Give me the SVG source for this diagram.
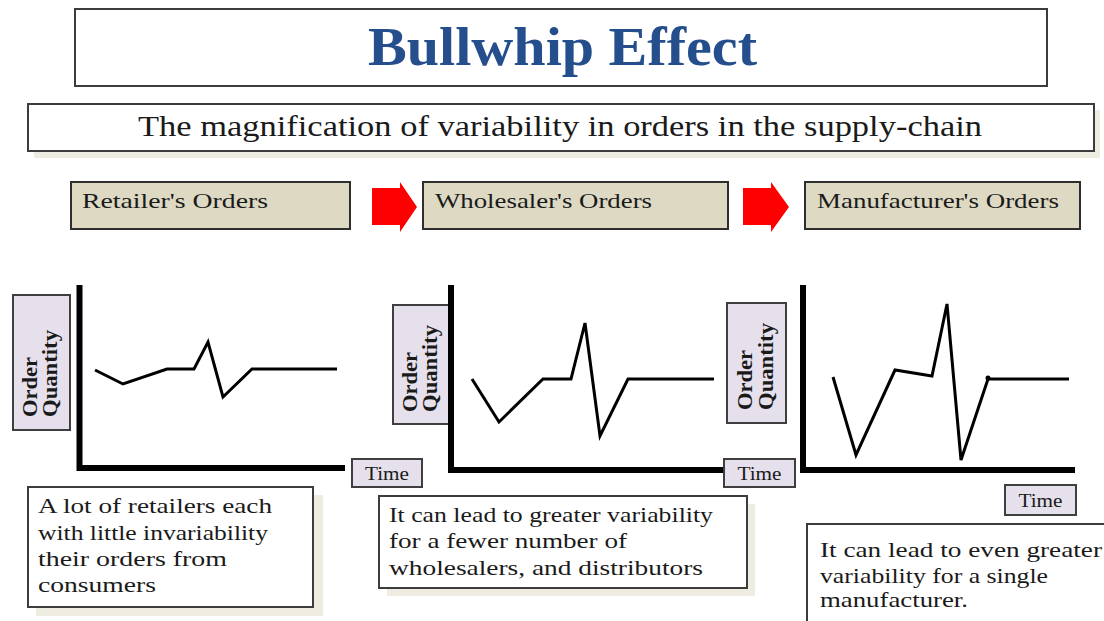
<svg xmlns="http://www.w3.org/2000/svg" width="1104" height="621" viewBox="0 0 1104 621">
  <style>
    .serif { font-family: "Liberation Serif", "Times New Roman", serif; fill: #1a1a1a; }
    .frame { fill: #ffffff; stroke: #3c3c3c; stroke-width: 2; }
    .shadow { fill: #eeece1; }
    .stage { fill: #ddd9c3; stroke: #2e2e2e; stroke-width: 2; }
    .stage-text { font-size: 22px; }
    .label { fill: #e5e0ec; stroke: #3f3f3f; stroke-width: 2; }
    .axis { fill: none; stroke: #000; stroke-width: 6; stroke-linejoin: miter; }
    .trace { fill: none; stroke: #000; stroke-width: 3; stroke-linejoin: miter; }
    .qty { font-size: 20px; font-weight: bold; }
    .time { font-size: 19px; }
    .body { font-size: 22px; }
    .arrow { fill: #ff0000; }
  </style>

  <!-- title banner -->
  <g id="title">
    <rect class="frame" x="75" y="9" width="972" height="77"/>
    <text x="368" y="65" textLength="389" lengthAdjust="spacingAndGlyphs" style="font-family:'Liberation Serif','Times New Roman',serif;font-size:54px;font-weight:bold;fill:#254e8c">Bullwhip  Effect</text>
  </g>

  <!-- subtitle -->
  <g id="subtitle">
    <rect class="shadow" x="34" y="110" width="1066" height="48"/>
    <rect class="frame" x="28" y="104" width="1066" height="47"/>
    <text class="serif" x="138" y="136" font-size="30" textLength="844" lengthAdjust="spacingAndGlyphs">The magnification of variability in orders in the supply-chain</text>
  </g>

  <!-- stage headers -->
  <g id="retailer-orders">
    <rect class="stage" x="71" y="182" width="279" height="47"/>
    <text class="serif stage-text" x="82" y="208" textLength="186" lengthAdjust="spacingAndGlyphs">Retailer's  Orders</text>
  </g>
  <g id="wholesaler-orders">
    <rect class="stage" x="423" y="182" width="305" height="47"/>
    <text class="serif stage-text" x="435" y="208" textLength="217" lengthAdjust="spacingAndGlyphs">Wholesaler's Orders</text>
  </g>
  <g id="manufacturer-orders">
    <rect class="stage" x="805" y="182" width="275" height="47"/>
    <text class="serif stage-text" x="817" y="208" textLength="242" lengthAdjust="spacingAndGlyphs">Manufacturer's Orders</text>
  </g>

  <!-- flow arrows between stages -->
  <g id="connectors">
    <polygon class="arrow" points="372,188 400,188 400,182 417,207 400,232 400,225 372,225"/>
    <polygon class="arrow" points="743,188 771,188 771,182 789,207 771,232 771,225 743,225"/>
  </g>

  <!-- retailer chart -->
  <g id="retailer-chart">
    <rect class="label" x="13" y="295" width="57" height="135"/>
    <text class="serif qty" transform="translate(37,417) rotate(-90)" textLength="60" lengthAdjust="spacingAndGlyphs">Order</text>
    <text class="serif qty" transform="translate(57,417) rotate(-90)" textLength="87" lengthAdjust="spacingAndGlyphs">Quantity</text>
    <path class="axis" d="M79.5,285 V468 H345"/>
    <polyline class="trace" points="95,370 123,384 167,369 194,369 208,342 223,397 252,369 337,369"/>
    <rect class="label" x="352" y="459" width="70" height="28"/>
    <text class="serif time" x="387" y="480" text-anchor="middle" textLength="44" lengthAdjust="spacingAndGlyphs">Time</text>
  </g>

  <!-- wholesaler chart -->
  <g id="wholesaler-chart">
    <rect class="label" x="393" y="305" width="56" height="119"/>
    <text class="serif qty" transform="translate(417,412) rotate(-90)" textLength="60" lengthAdjust="spacingAndGlyphs">Order</text>
    <text class="serif qty" transform="translate(437,412) rotate(-90)" textLength="87" lengthAdjust="spacingAndGlyphs">Quantity</text>
    <path class="axis" d="M451,285 V470 H725"/>
    <polyline class="trace" points="472,379 499,422 543,379 571,379 585,323 600,436 628,379 714,379"/>
    <rect class="label" x="724" y="459" width="71" height="28"/>
    <text class="serif time" x="759.5" y="480" text-anchor="middle" textLength="44" lengthAdjust="spacingAndGlyphs">Time</text>
  </g>

  <!-- manufacturer chart -->
  <g id="manufacturer-chart">
    <rect class="label" x="727" y="303" width="59" height="120"/>
    <text class="serif qty" transform="translate(752,410) rotate(-90)" textLength="60" lengthAdjust="spacingAndGlyphs">Order</text>
    <text class="serif qty" transform="translate(773,410) rotate(-90)" textLength="87" lengthAdjust="spacingAndGlyphs">Quantity</text>
    <path class="axis" d="M803,285 V470 H1075"/>
    <polyline class="trace" points="833,377 856,455 895,370 932,376 947,304 961,460 988,379 1069,379"/>
    <circle cx="988" cy="378" r="2.5" fill="#000"/>
    <rect class="label" x="1005" y="485" width="71" height="30"/>
    <text class="serif time" x="1040.5" y="507" text-anchor="middle" textLength="44" lengthAdjust="spacingAndGlyphs">Time</text>
  </g>

  <!-- notes -->
  <g id="retailer-note">
    <rect class="shadow" x="36" y="495" width="287" height="121"/>
    <rect class="frame" x="28" y="487" width="285" height="120"/>
    <text class="serif body" x="38" y="513" textLength="234" lengthAdjust="spacingAndGlyphs">A lot of retailers each</text>
    <text class="serif body" x="38" y="540" textLength="230" lengthAdjust="spacingAndGlyphs">with little invariability</text>
    <text class="serif body" x="38" y="566" textLength="189" lengthAdjust="spacingAndGlyphs">their orders from</text>
    <text class="serif body" x="38" y="592" textLength="118" lengthAdjust="spacingAndGlyphs">consumers</text>
  </g>
  <g id="wholesaler-note">
    <rect class="shadow" x="387" y="504" width="368" height="92"/>
    <rect class="frame" x="379" y="496" width="368" height="92"/>
    <text class="serif body" x="389" y="522" textLength="324" lengthAdjust="spacingAndGlyphs">It can lead to greater variability</text>
    <text class="serif body" x="389" y="548" textLength="238" lengthAdjust="spacingAndGlyphs">for a fewer number  of</text>
    <text class="serif body" x="389" y="575" textLength="314" lengthAdjust="spacingAndGlyphs">wholesalers, and distributors</text>
  </g>
  <g id="manufacturer-note">
    <rect class="frame" x="807" y="524" width="310" height="110"/>
    <text class="serif body" x="820" y="557" textLength="282" lengthAdjust="spacingAndGlyphs">It  can lead to even greater</text>
    <text class="serif body" x="820" y="583" textLength="228" lengthAdjust="spacingAndGlyphs">variability  for a single</text>
    <text class="serif body" x="820" y="607" textLength="148" lengthAdjust="spacingAndGlyphs">manufacturer.</text>
  </g>
</svg>
